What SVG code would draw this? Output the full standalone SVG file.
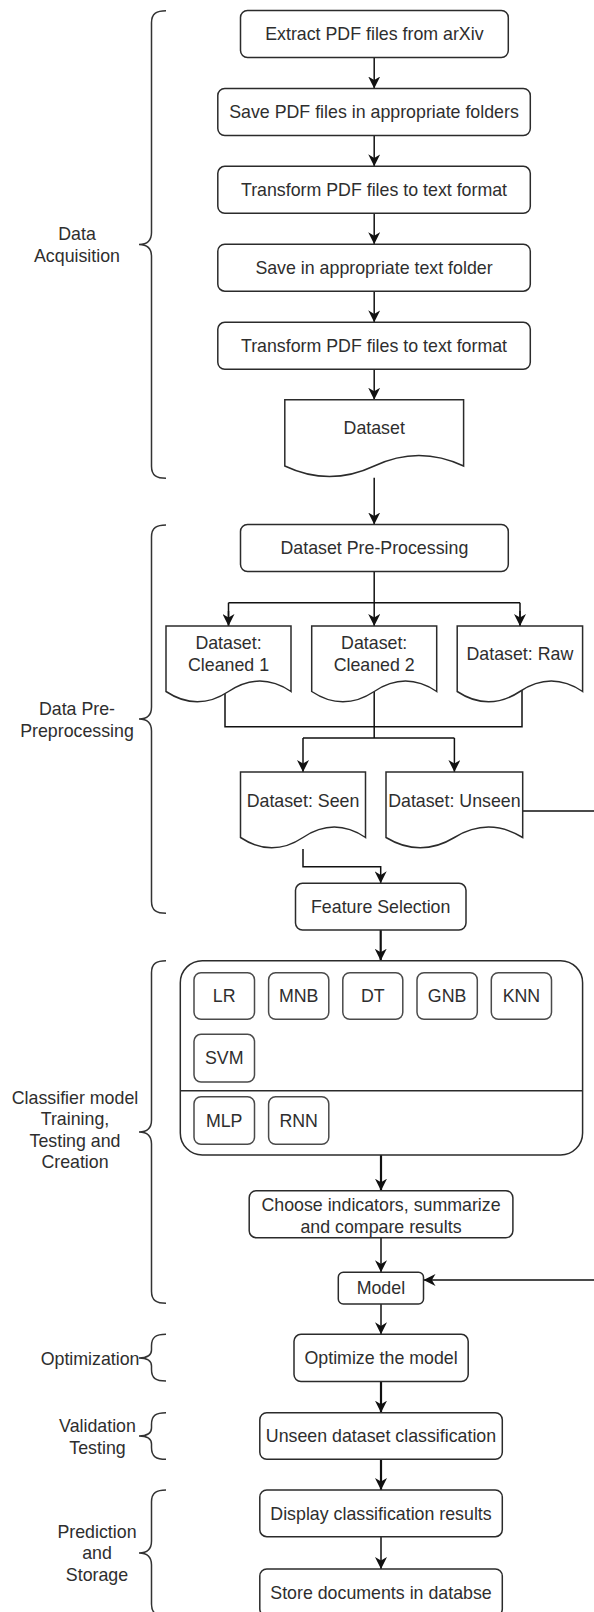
<svg xmlns="http://www.w3.org/2000/svg" width="594" height="1612" viewBox="0 0 594 1612">
<style>
.t{font-family:"Liberation Sans",Arial,sans-serif;font-size:17.8px;fill:#2e2e2e;text-anchor:middle}
.te{font-family:"Liberation Sans",Arial,sans-serif;font-size:17.8px;fill:#2e2e2e;text-anchor:end}
.b{fill:#fff;stroke:#2b2b2b;stroke-width:1.5}
.s{fill:#fff;stroke:#4a4a4a;stroke-width:1.5}
.c{fill:none;stroke:#111;stroke-width:1.5}
.cb{fill:none;stroke:#111;stroke-width:2.2}
.br{fill:none;stroke:#333;stroke-width:1.5}
</style>
<defs>
<marker id="arr" viewBox="0 0 10 10" refX="10" refY="5" markerWidth="12" markerHeight="12" markerUnits="userSpaceOnUse" orient="auto">
<path d="M0,0 L10,5 L0,10 L3,5 Z" fill="#111"/>
</marker>
</defs>

<g id="connectors">
<path class="c" d="M374.2,57.5 V88.5" marker-end="url(#arr)"/>
<path class="c" d="M374.2,135.5 V166.3" marker-end="url(#arr)"/>
<path class="c" d="M374.2,213.3 V244.2" marker-end="url(#arr)"/>
<path class="c" d="M374.2,291.2 V322.3" marker-end="url(#arr)"/>
<path class="c" d="M374.2,369.3 V399.7" marker-end="url(#arr)"/>
<path class="c" d="M374.2,477.7 V524.5" marker-end="url(#arr)"/>
<path class="c" d="M374.2,571.5 V626" marker-end="url(#arr)"/>
<path class="c" d="M228.5,602.7 H520 M228.5,602.7 V626 M520,602.7 V626"/>
<path class="c" d="M228.5,611 V626" marker-end="url(#arr)"/>
<path class="c" d="M520,611 V626" marker-end="url(#arr)"/>
<path class="c" d="M225,690 V726.7 H522 V690"/>
<path class="c" d="M374.2,690 V738 M303,738 H454.4"/>
<path class="c" d="M303,738 V772" marker-end="url(#arr)"/>
<path class="c" d="M454.4,738 V772" marker-end="url(#arr)"/>
<path class="c" d="M303,849 V866.7 H380.7 V883.3" marker-end="url(#arr)"/>
<path class="cb" d="M380.7,930 V960.7" marker-end="url(#arr)"/>
<path class="cb" d="M381,1155 V1190.7" marker-end="url(#arr)"/>
<path class="c" d="M381,1237.7 V1272.3" marker-end="url(#arr)"/>
<path class="c" d="M381,1304 V1334.3" marker-end="url(#arr)"/>
<path class="cb" d="M381,1381.6 V1412.7" marker-end="url(#arr)"/>
<path class="cb" d="M381,1459.3 V1490" marker-end="url(#arr)"/>
<path class="c" d="M381,1536.7 V1569" marker-end="url(#arr)"/>
<path class="c" d="M522.7,811 H597 V1280 H423.5" marker-end="url(#arr)"/>
</g>

<g id="braces">
<path class="br" d="M166,10.7 C157,10.7 151.5,13 151.5,22.7 L151.5,232.5 C151.5,241 147,244.5 139,244.5 C147,244.5 151.5,248 151.5,256.5 L151.5,466.3 C151.5,476 157,478.3 166,478.3"/>
<path class="br" d="M166,525 C157,525 151.5,527.3 151.5,537 L151.5,707 C151.5,715.5 147,719 139,719 C147,719 151.5,722.5 151.5,731 L151.5,901.3 C151.5,911 157,913.3 166,913.3"/>
<path class="br" d="M166,960.7 C157,960.7 151.5,963 151.5,972.7 L151.5,1120 C151.5,1128.5 147,1132 139,1132 C147,1132 151.5,1135.5 151.5,1144 L151.5,1291.3 C151.5,1301 157,1303.3 166,1303.3"/>
<path class="br" d="M166,1334.3 C156,1334.3 151.5,1337 151.5,1346 L151.5,1350 C151.5,1356 147,1358 139,1358 C147,1358 151.5,1360 151.5,1366 L151.5,1369.5 C151.5,1378.5 156,1381 166,1381"/>
<path class="br" d="M166,1412.7 C156,1412.7 151.5,1415.4 151.5,1424.4 L151.5,1428 C151.5,1434 147,1436 139,1436 C147,1436 151.5,1438 151.5,1444 L151.5,1447.6 C151.5,1456.6 156,1459.3 166,1459.3"/>
<path class="br" d="M166,1490 C157,1490 151.5,1492.3 151.5,1502 L151.5,1541 C151.5,1549.5 147,1553 139,1553 C147,1553 151.5,1556.5 151.5,1565 L151.5,1604 C151.5,1613.7 157,1616 166,1616"/>
</g>

<g id="labels">
<text class="t" x="77" y="240">Data</text>
<text class="t" x="77" y="262">Acquisition</text>
<text class="t" x="77" y="715.3">Data Pre-</text>
<text class="t" x="77" y="736.7">Preprocessing</text>
<text class="t" x="75" y="1103.7">Classifier model</text>
<text class="t" x="75" y="1125.3">Training,</text>
<text class="t" x="75" y="1146.7">Testing and</text>
<text class="t" x="75" y="1168">Creation</text>
<text class="te" x="139.5" y="1364.5">Optimization</text>
<text class="t" x="97.5" y="1432">Validation</text>
<text class="t" x="97.5" y="1453.7">Testing</text>
<text class="t" x="97" y="1537.7">Prediction</text>
<text class="t" x="97" y="1559.3">and</text>
<text class="t" x="97" y="1581">Storage</text>
</g>

<g id="n1"><rect class="b" x="240.5" y="10.5" width="267.8" height="47" rx="7"/><text class="t" x="374.4" y="40.2">Extract PDF files from arXiv</text></g>
<g id="n2"><rect class="b" x="217.8" y="88.5" width="312.5" height="47" rx="7"/><text class="t" x="374" y="118.2">Save PDF files in appropriate folders</text></g>
<g id="n3"><rect class="b" x="217.8" y="166.3" width="312.5" height="47" rx="7"/><text class="t" x="374" y="196">Transform PDF files to text format</text></g>
<g id="n4"><rect class="b" x="217.8" y="244.2" width="312.5" height="47" rx="7"/><text class="t" x="374" y="273.9">Save in appropriate text folder</text></g>
<g id="n5"><rect class="b" x="217.8" y="322.3" width="312.5" height="47" rx="7"/><text class="t" x="374" y="352">Transform PDF files to text format</text></g>
<g id="dataset"><path class="b" d="M284.8,399.7 H463.6 V466 Q418.9,444.9 374.2,466 Q329.5,487.1 284.8,466 Z"/><text class="t" x="374.2" y="434.3">Dataset</text></g>
<g id="preproc"><rect class="b" x="240.5" y="524.5" width="267.8" height="47" rx="7"/><text class="t" x="374.4" y="554.2">Dataset Pre-Processing</text></g>
<g id="cleaned1"><path class="b" d="M166,626 H291 V691.5 Q259.8,670.7 228.5,691.5 Q197.3,712.2 166,691.5 Z"/><text class="t" x="228.5" y="649.3">Dataset:</text><text class="t" x="228.5" y="671">Cleaned 1</text></g>
<g id="cleaned2"><path class="b" d="M311.7,626 H436.7 V691.5 Q405.5,670.7 374.2,691.5 Q342.9,712.2 311.7,691.5 Z"/><text class="t" x="374.2" y="649.3">Dataset:</text><text class="t" x="374.2" y="671">Cleaned 2</text></g>
<g id="raw"><path class="b" d="M457.2,626 H582.6 V691.5 Q551.3,670.7 519.9,691.5 Q488.6,712.2 457.2,691.5 Z"/><text class="t" x="519.9" y="660">Dataset: Raw</text></g>
<g id="seen"><path class="b" d="M240.5,772 H365.5 V837.5 Q334.3,816.7 303,837.5 Q271.8,858.2 240.5,837.5 Z"/><text class="t" x="303" y="806.7">Dataset: Seen</text></g>
<g id="unseen"><path class="b" d="M386,772 H522.7 V837.5 Q488.5,816.7 454.4,837.5 Q420.2,858.2 386,837.5 Z"/><text class="t" x="454.4" y="806.7">Dataset: Unseen</text></g>
<g id="features"><rect class="b" x="295.5" y="883.3" width="170.5" height="46.7" rx="7"/><text class="t" x="380.7" y="913">Feature Selection</text></g>
<g id="classifiers">
<rect class="b" x="180.3" y="960.7" width="402.3" height="194.3" rx="22"/>
<path class="b" d="M180.3,1090.7 H582.6"/>
<g id="lr"><rect class="s" x="194" y="972.7" width="60.5" height="46.6" rx="7"/><text class="t" x="224.2" y="1002">LR</text></g>
<g id="mnb"><rect class="s" x="268.6" y="972.7" width="60.2" height="46.6" rx="7"/><text class="t" x="298.7" y="1002">MNB</text></g>
<g id="dt"><rect class="s" x="342.8" y="972.7" width="60" height="46.6" rx="7"/><text class="t" x="372.8" y="1002">DT</text></g>
<g id="gnb"><rect class="s" x="417" y="972.7" width="60.3" height="46.6" rx="7"/><text class="t" x="447.1" y="1002">GNB</text></g>
<g id="knn"><rect class="s" x="491.3" y="972.7" width="60.2" height="46.6" rx="7"/><text class="t" x="521.4" y="1002">KNN</text></g>
<g id="svm"><rect class="s" x="194" y="1034.3" width="60.5" height="47.7" rx="7"/><text class="t" x="224.2" y="1064.2">SVM</text></g>
<g id="mlp"><rect class="s" x="194" y="1096.7" width="60.5" height="47.6" rx="7"/><text class="t" x="224.2" y="1126.5">MLP</text></g>
<g id="rnn"><rect class="s" x="268.6" y="1096.7" width="60.2" height="47.6" rx="7"/><text class="t" x="298.7" y="1126.5">RNN</text></g>
</g>
<g id="choose"><rect class="b" x="249.2" y="1190.7" width="263.7" height="47" rx="7"/><text class="t" x="381" y="1211">Choose indicators, summarize</text><text class="t" x="381" y="1232.7">and compare results</text></g>
<g id="model"><rect class="b" x="338.3" y="1272.3" width="85.2" height="31.7" rx="5"/><text class="t" x="380.9" y="1294.3">Model</text></g>
<g id="optimize"><rect class="b" x="294" y="1334.3" width="174.2" height="47.3" rx="7"/><text class="t" x="381.1" y="1364.3">Optimize the model</text></g>
<g id="unseencls"><rect class="b" x="259.8" y="1412.7" width="242.5" height="46.6" rx="7"/><text class="t" x="381" y="1442.2">Unseen dataset classification</text></g>
<g id="display"><rect class="b" x="259.8" y="1490" width="242.5" height="46.7" rx="7"/><text class="t" x="381" y="1519.5">Display classification results</text></g>
<g id="store"><rect class="b" x="259.8" y="1569" width="242.5" height="47" rx="7"/><text class="t" x="381" y="1598.5">Store documents in databse</text></g>
</svg>
